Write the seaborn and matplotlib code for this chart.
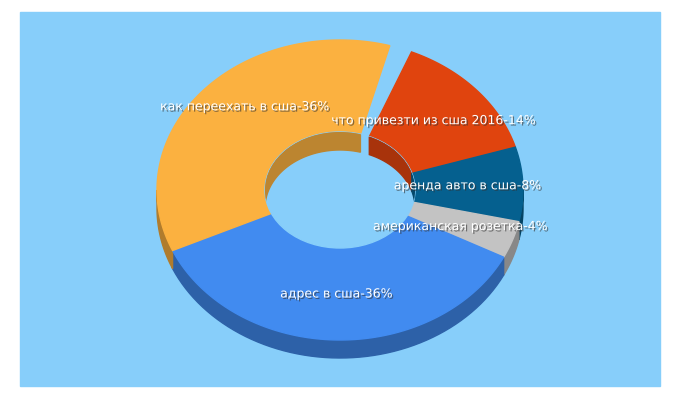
import numpy as np
import matplotlib
matplotlib.use("Agg")
import matplotlib.pyplot as plt
import matplotlib.patheffects as pe
from matplotlib.patches import Polygon, Rectangle, Ellipse
import seaborn as sns

sns.set_theme(style="white")

labels = ["что привезти из сша 2016", "аренда авто в сша", "американская розетка",
          "адрес в сша", "как переехать в сша"]
values = [14, 8, 4, 36, 36]
colors = ["#e0440e", "#05608f", "#c3c3c3", "#418bf0", "#fbb140"]

cx, cy = 340, 190
rx, ry = 183, 150
irx, iry = 75, 58
depth = 18
start = 67.0


def shade(c, f=0.7):
    r, g, b = matplotlib.colors.to_rgb(c)
    return (r * f, g * f, b * f)


def pt(a, sx, sy, dy=0):
    t = np.radians(a)
    return cx + sx * np.cos(t), cy - sy * np.sin(t) + dy


fig = plt.figure(figsize=(6.8, 4), dpi=100)
ax = fig.add_axes([0, 0, 1, 1])
ax.set_xlim(0, 680)
ax.set_ylim(400, 0)
ax.axis("off")
ax.add_patch(Rectangle((20, 12), 640, 374, color="#87cefa", zorder=0))

total = 100.0
angles = []
a = start
for v in values:
    a2 = a - v / total * 360
    angles.append((a2, a))
    a = a2

# outer side walls (front half)
for (a0, a1), c in zip(angles, colors):
    for k in range(-1, 2):
        lo, hi = max(a0, 180 + 360 * k), min(a1, 360 + 360 * k)
        if hi <= lo:
            continue
        ts = np.linspace(lo, hi, 60)
        top = [pt(t, rx, ry) for t in ts]
        bot = [pt(t, rx, ry, depth) for t in ts[::-1]]
        ax.add_patch(Polygon(top + bot, color=shade(c), zorder=1))

# top faces
for (a0, a1), c in zip(angles, colors):
    ts = np.linspace(a0, a1, 100)
    outer = [pt(t, rx, ry) for t in ts]
    inner = [pt(t, irx, iry) for t in ts[::-1]]
    ax.add_patch(Polygon(outer + inner, color=c, zorder=2))

# hole
hole = Ellipse((cx, cy), 2 * irx, 2 * iry, color="#87cefa", zorder=3)
ax.add_patch(hole)
for (a0, a1), c in zip(angles, colors):
    for k in range(-1, 2):
        lo, hi = max(a0, 0 + 360 * k), min(a1, 180 + 360 * k)
        if hi <= lo:
            continue
        ts = np.linspace(lo, hi, 60)
        top = [pt(t, irx, iry) for t in ts]
        bot = [pt(t, irx, iry, depth) for t in ts[::-1]]
        p = Polygon(top + bot, color=shade(c, 0.75), zorder=4)
        ax.add_patch(p)
        p.set_clip_path(hole)

offsets = [(-10, 0), (0, 0), (0, 0), (0, 0), (10, -15)]
for (a0, a1), lab, v, off in zip(angles, labels, values, offsets):
    m = (a0 + a1) / 2
    x, y = pt(m, (rx + irx) / 2 + 10, (ry + iry) / 2)
    if v < 10:
        x, y = pt(m, rx - 55, ry - 40)
    ax.text(x + off[0], y + off[1], f"{lab}-{v}%", color="white", fontsize=9,
            ha="center", va="center", zorder=6,
            path_effects=[pe.withSimplePatchShadow(offset=(1, -1), shadow_rgbFace="#333333", alpha=0.6)])

fig.savefig("out.png", dpi=100)
